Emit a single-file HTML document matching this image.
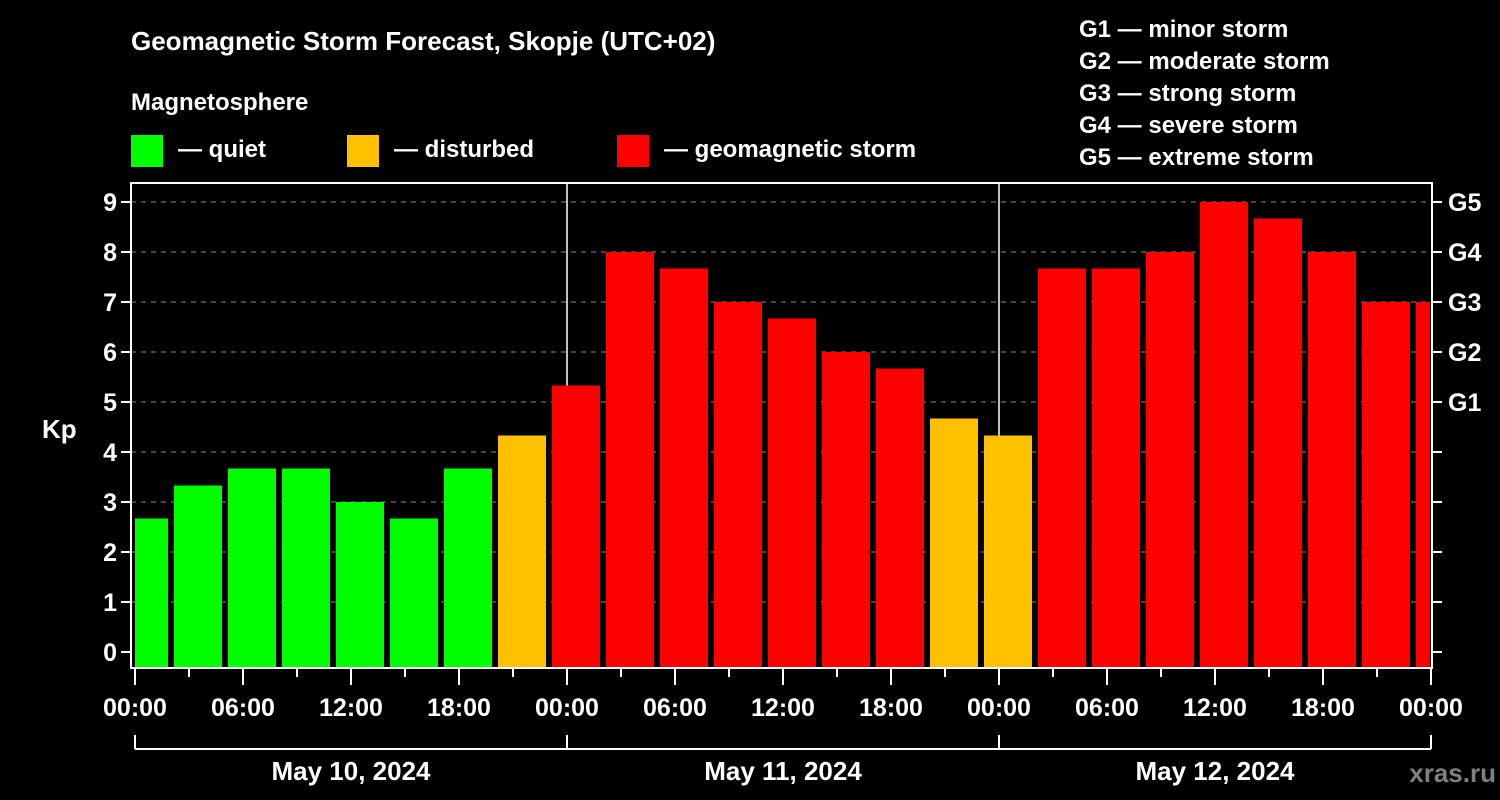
<!DOCTYPE html>
<html><head><meta charset="utf-8"><style>
body{margin:0;background:#000;width:1500px;height:800px;overflow:hidden}
svg{display:block;font-family:"Liberation Sans",Arial,sans-serif;font-weight:bold}
</style></head><body>
<svg id="c" width="1500" height="800" viewBox="0 0 1500 800">
<text x="131" y="50" fill="#fff" font-size="26">Geomagnetic Storm Forecast, Skopje (UTC+02)</text>
<text x="131" y="110" fill="#fff" font-size="24">Magnetosphere</text>
<g><rect x="131" y="135" width="32" height="32" fill="#00ff00"/><text x="178" y="157" fill="#fff" font-size="24">— quiet</text></g>
<g><rect x="347" y="135" width="32" height="32" fill="#ffc000"/><text x="394" y="157" fill="#fff" font-size="24">— disturbed</text></g>
<g><rect x="617" y="135" width="32" height="32" fill="#ff0000"/><text x="664" y="157" fill="#fff" font-size="24">— geomagnetic storm</text></g>
<g fill="#fff" font-size="24">
<text x="1079" y="37">G1 — minor storm</text><text x="1079" y="69">G2 — moderate storm</text><text x="1079" y="101">G3 — strong storm</text><text x="1079" y="133">G4 — severe storm</text><text x="1079" y="165">G5 — extreme storm</text></g>
<text x="42" y="438" fill="#fff" font-size="26">Kp</text>
<g id="grid"></g><g id="bars"></g><g id="axes"></g>
<text x="1496" y="782" fill="#808080" font-size="26" text-anchor="end">xras.ru</text>
</svg>
<script>
const kpValues=[2.67,3.33,3.67,3.67,3.0,2.67,3.67,4.33,5.33,8,7.67,7,6.67,6,5.67,4.67,4.33,7.67,7.67,8,9,8.67,8,7,7];
const barStartHours=[-1,2,5,8,11,14,17,20,23,26,29,32,35,38,41,44,47,50,53,56,59,62,65,68,71];
const yTicks=[0,1,2,3,4,5,6,7,8,9];
const gLabels=["G1","G2","G3","G4","G5"];
const gLevels=[5,6,7,8,9];
const xTickLabels=["00:00","06:00","12:00","18:00","00:00","06:00","12:00","18:00","00:00","06:00","12:00","18:00","00:00"];
const dayLabels=["May 10, 2024","May 11, 2024","May 12, 2024"];
const NS="http://www.w3.org/2000/svg";
const L=131,R=1432,T=183,B=668,X0=135,HW=18;
const x=h=>X0+h*HW, y=v=>652-v*50;
function mk(p,t,a){const e=document.createElementNS(NS,t);for(const k in a)e.setAttribute(k,a[k]);p.appendChild(e);return e;}
const grid=document.getElementById('grid'),bars=document.getElementById('bars'),axes=document.getElementById('axes');
yTicks.forEach(v=>{if(v>0){const g=mk(grid,'line',{x1:L,x2:R,y1:y(v),y2:y(v),stroke:'#888','stroke-width':1,'stroke-dasharray':'5,5'});

}
mk(axes,'line',{x1:L-10,x2:L,y1:y(v),y2:y(v),stroke:'#fff','stroke-width':2});
mk(axes,'line',{x1:R,x2:R+10,y1:y(v),y2:y(v),stroke:'#fff','stroke-width':2});
const t=mk(axes,'text',{x:L-14,y:y(v)+9,fill:'#fff','font-size':25,'text-anchor':'end'});t.textContent=v;

});
gLabels.forEach((g,i)=>{const t=mk(axes,'text',{x:R+16,y:y(gLevels[i])+9,fill:'#fff','font-size':25});t.textContent=g;

});
[0,72].forEach(d=>{const h=d;const xx=x(h);if(h>0){}});
for(let d=1;d<3;d++){const l=mk(grid,'line',{x1:x(d*24),x2:x(d*24),y1:T,y2:B,stroke:'#fff','stroke-width':1.5});

}
kpValues.forEach((v,i)=>{let s=Math.max(x(barStartHours[i])+3,L+4),e=Math.min(x(barStartHours[i]+3)-3,R-2);
const c=v<4?'#00ff00':(v<5?'#ffc000':'#ff0000');
const r=mk(bars,'rect',{x:s,y:y(v),width:e-s,height:B-y(v),fill:c});

});
mk(axes,'rect',{x:L,y:T,width:R-L,height:B-T,fill:'none',stroke:'#fff','stroke-width':2});
for(let h=0;h<=72;h+=3){const maj=h%6==0;mk(axes,'line',{x1:x(h),x2:x(h),y1:B,y2:B+(maj?17:9),stroke:'#fff','stroke-width':2});}
xTickLabels.forEach((s,i)=>{const t=mk(axes,'text',{x:x(i*6),y:716,fill:'#fff','font-size':25,'text-anchor':'middle'});t.textContent=s;

});
mk(axes,'line',{x1:x(0),x2:x(72),y1:749,y2:749,stroke:'#fff','stroke-width':2});
for(let d=0;d<=3;d++)mk(axes,'line',{x1:x(d*24),x2:x(d*24),y1:735,y2:749,stroke:'#fff','stroke-width':2});
dayLabels.forEach((s,i)=>{const t=mk(axes,'text',{x:x(i*24+12),y:780,fill:'#fff','font-size':26,'text-anchor':'middle'});t.textContent=s;

});
</script>
</body></html>
